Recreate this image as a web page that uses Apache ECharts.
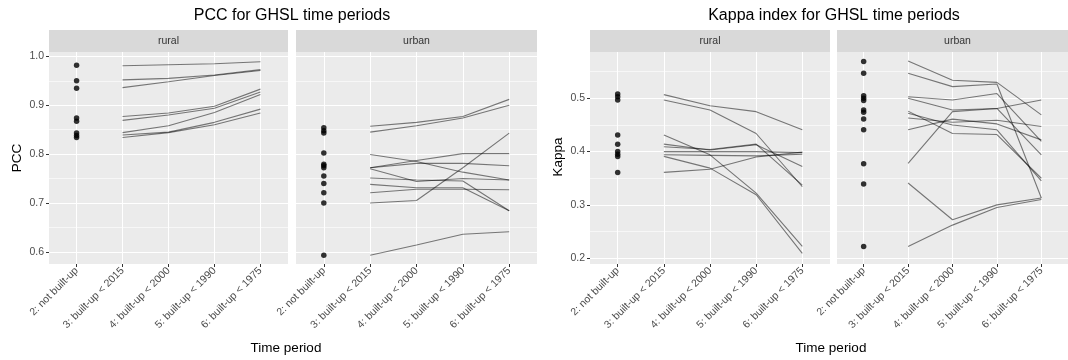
<!DOCTYPE html>
<html>
<head>
<meta charset="utf-8">
<script src="https://cdn.jsdelivr.net/npm/echarts@6/dist/echarts.min.js"></script>
<style>
  html, body { margin: 0; padding: 0; background: #fff; }
  #chart { width: 1068px; height: 360px; }
</style>
</head>
<body>
<div id="chart"></div>
<script>
// categories on the x axis (first one shown as points, the rest as lines)
var periods = ['2: not built-up', '3: built-up < 2015', '4: built-up < 2000', '5: built-up < 1990', '6: built-up < 1975'];

// PCC, rural
var pccRuralPoints = [0.982, 0.950, 0.935, 0.874, 0.867, 0.843, 0.838, 0.834];
var pccRuralLines = [
  [0.981, 0.983, 0.985, 0.989],
  [0.952, 0.955, 0.962, 0.973],
  [0.936, 0.948, 0.961, 0.971],
  [0.877, 0.884, 0.898, 0.933],
  [0.869, 0.880, 0.894, 0.927],
  [0.844, 0.858, 0.885, 0.922],
  [0.839, 0.845, 0.865, 0.892],
  [0.834, 0.844, 0.860, 0.884]
];

// PCC, urban
var pccUrbanPoints = [0.854, 0.848, 0.843, 0.802, 0.779, 0.776, 0.772, 0.755, 0.740, 0.721, 0.700, 0.593];
var pccUrbanLines = [
  [0.857, 0.865, 0.877, 0.912],
  [0.845, 0.858, 0.874, 0.900],
  [0.799, 0.785, 0.763, 0.747],
  [0.772, 0.787, 0.801, 0.801],
  [0.772, 0.781, 0.781, 0.776],
  [0.770, 0.744, 0.750, 0.747],
  [0.751, 0.747, 0.745, 0.684],
  [0.738, 0.731, 0.731, 0.684],
  [0.721, 0.728, 0.728, 0.727],
  [0.700, 0.705, 0.772, 0.843],
  [0.593, 0.614, 0.636, 0.641]
];

// Kappa, rural
var kappaRuralPoints = [0.508, 0.503, 0.497, 0.431, 0.414, 0.400, 0.395, 0.391, 0.361];
var kappaRuralLines = [
  [0.507, 0.486, 0.475, 0.441],
  [0.497, 0.478, 0.434, 0.334],
  [0.431, 0.394, 0.322, 0.222],
  [0.414, 0.403, 0.413, 0.372],
  [0.409, 0.404, 0.414, 0.337],
  [0.400, 0.400, 0.400, 0.398],
  [0.394, 0.393, 0.392, 0.395],
  [0.391, 0.369, 0.319, 0.209],
  [0.361, 0.367, 0.390, 0.399]
];

// Kappa, urban
var kappaUrbanPoints = [0.569, 0.547, 0.505, 0.500, 0.496, 0.478, 0.474, 0.461, 0.441, 0.377, 0.339, 0.222];
var kappaUrbanLines = [
  [0.570, 0.534, 0.530, 0.469],
  [0.547, 0.522, 0.527, 0.313],
  [0.503, 0.497, 0.509, 0.419],
  [0.500, 0.478, 0.481, 0.394],
  [0.476, 0.434, 0.432, 0.350],
  [0.472, 0.450, 0.441, 0.345],
  [0.463, 0.455, 0.459, 0.447],
  [0.441, 0.461, 0.452, 0.422],
  [0.378, 0.475, 0.481, 0.497],
  [0.341, 0.272, 0.300, 0.313],
  [0.222, 0.262, 0.295, 0.310]
];

// y ticks
var pccTicks = [0.6, 0.7, 0.8, 0.9, 1.0];
var pccMinor = [0.65, 0.75, 0.85, 0.95];
var kappaTicks = [0.2, 0.3, 0.4, 0.5];
var kappaMinor = [0.25, 0.35, 0.45, 0.55];

var FONT = '"Liberation Sans", Arial, sans-serif';
var TOP = 52, HEIGHT = 212;

var facets = [
  {strip: 'rural', left: 49,  width: 239, points: pccRuralPoints,   lines: pccRuralLines,   min: 0.575, max: 1.009, ticks: pccTicks,   minor: pccMinor,   labels: true},
  {strip: 'urban', left: 296, width: 241, points: pccUrbanPoints,   lines: pccUrbanLines,   min: 0.575, max: 1.009, ticks: pccTicks,   minor: pccMinor,   labels: false},
  {strip: 'rural', left: 590, width: 240, points: kappaRuralPoints, lines: kappaRuralLines, min: 0.189, max: 0.587, ticks: kappaTicks, minor: kappaMinor, labels: true},
  {strip: 'urban', left: 837, width: 241, points: kappaUrbanPoints, lines: kappaUrbanLines, min: 0.189, max: 0.587, ticks: kappaTicks, minor: kappaMinor, labels: false}
];

var grids = [], xAxes = [], yAxes = [], series = [], graphics = [];

facets.forEach(function (f, i) {
  grids.push({left: f.left, top: TOP, width: f.width, height: HEIGHT, show: true,
    backgroundColor: '#ebebeb', borderWidth: 0, containLabel: false});

  xAxes.push({
    type: 'value', gridIndex: i, min: -0.6, max: 4.6, position: 'bottom',
    axisLine: {show: false, onZero: false},
    axisTick: {show: true, length: 3, customValues: [0, 1, 2, 3, 4], lineStyle: {color: '#333', width: 1}},
    axisLabel: {customValues: [0, 1, 2, 3, 4], rotate: 45, margin: 5, fontSize: 10.5,
      color: '#4d4d4d', fontFamily: FONT, formatter: function (v) { return periods[Math.round(v)]; }},
    splitLine: {show: true, lineStyle: {color: '#ffffff', width: 1}}
  });

  // major y axis
  yAxes.push({
    type: 'value', gridIndex: i, min: f.min, max: f.max, position: 'left',
    axisLine: {show: false, onZero: false},
    axisTick: {show: f.labels, length: 3, customValues: f.ticks, lineStyle: {color: '#333', width: 1}},
    axisLabel: {show: f.labels, customValues: f.ticks, margin: 5, fontSize: 10.5, color: '#4d4d4d',
      fontFamily: FONT, formatter: function (v) { return v.toFixed(1); }},
    splitLine: {show: true, lineStyle: {color: '#ffffff', width: 1}}
  });
  // minor grid lines
  yAxes.push({
    type: 'value', gridIndex: i, min: f.min, max: f.max, position: 'left',
    axisLine: {show: false, onZero: false},
    axisTick: {show: false, customValues: f.minor},
    axisLabel: {show: false},
    splitLine: {show: true, lineStyle: {color: '#ffffff', width: 0.6}}
  });

  f.lines.forEach(function (ln) {
    series.push({
      type: 'line', xAxisIndex: i, yAxisIndex: 2 * i, silent: true, showSymbol: false, z: 3,
      data: ln.map(function (v, k) { return [k + 1, v]; }),
      lineStyle: {color: 'rgba(0,0,0,0.5)', width: 1.1}
    });
  });
  series.push({
    type: 'scatter', xAxisIndex: i, yAxisIndex: 2 * i, silent: true, z: 4,
    symbolSize: 5.5,
    data: f.points.map(function (v) { return [0, v]; }),
    itemStyle: {color: '#000'}
  });

  // facet strip
  graphics.push({type: 'rect', shape: {x: f.left, y: 30, width: f.width, height: 22},
    style: {fill: '#d9d9d9'}, silent: true});
  graphics.push({type: 'text', x: f.left + f.width / 2, y: 41,
    style: {text: f.strip, font: '10.5px ' + FONT, fill: '#333', textAlign: 'center', textVerticalAlign: 'middle'}, silent: true});
});

function label(txt, x, y, size, rot) {
  return {type: 'text', x: x, y: y, rotation: rot || 0, silent: true,
    style: {text: txt, font: size + 'px ' + FONT, fill: '#000', textAlign: 'center', textVerticalAlign: 'middle'}};
}
graphics.push(label('PCC for GHSL time periods', 292, 16, 16));
graphics.push(label('Kappa index for GHSL time periods', 834, 16, 16));
graphics.push(label('Time period', 286, 348, 13.5));
graphics.push(label('Time period', 831, 348, 13.5));
graphics.push(label('PCC', 17, 158, 13.5, Math.PI / 2));
graphics.push(label('Kappa', 558, 157, 13.5, Math.PI / 2));

var chart = echarts.init(document.getElementById('chart'), null, {renderer: 'canvas'});
chart.setOption({
  animation: false,
  backgroundColor: '#ffffff',
  grid: grids,
  xAxis: xAxes,
  yAxis: yAxes,
  series: series,
  graphic: graphics
});
</script>
</body>
</html>
